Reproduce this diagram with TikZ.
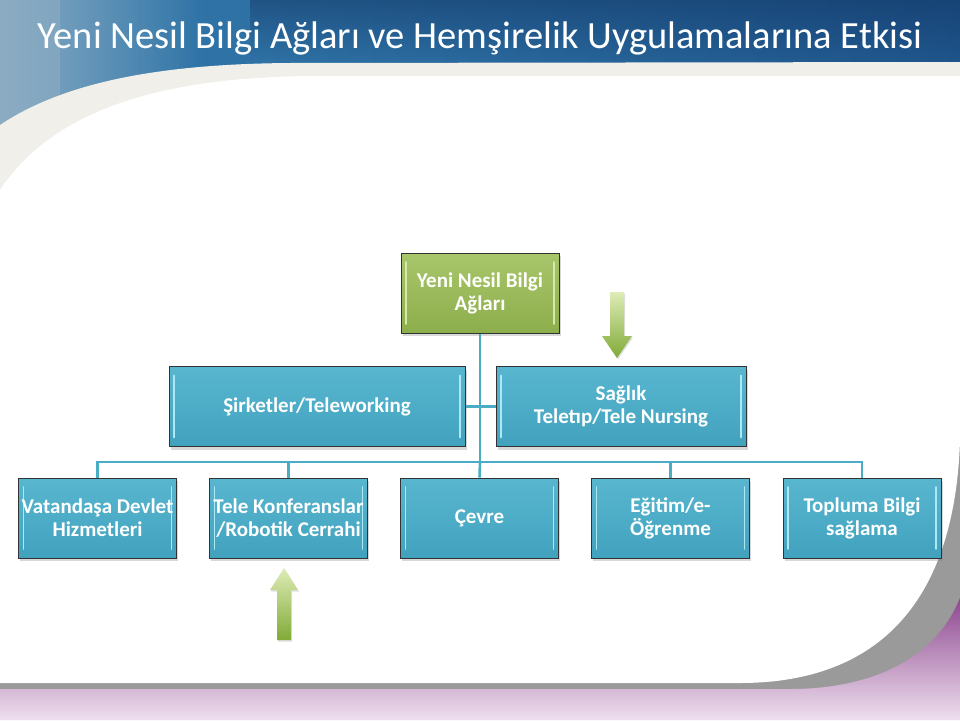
\documentclass[tikz,border=0pt]{standalone}
\usepackage{fontspec}
\setmainfont{Carlito}
\usetikzlibrary{shadows,fadings}
\definecolor{conncol}{RGB}{75,172,198}
\definecolor{bluetop}{RGB}{88,182,207}
\definecolor{bluebot}{RGB}{66,162,190}
\definecolor{greentop}{RGB}{168,198,106}
\definecolor{greenbot}{RGB}{141,174,76}
\definecolor{bevelblue}{RGB}{175,232,245}
\definecolor{bevelgreen}{RGB}{215,232,170}
\definecolor{creamcol}{RGB}{240,239,234}
\definecolor{graycol}{RGB}{154,154,154}
\definecolor{purpledark}{RGB}{142,72,144}
\definecolor{purplelight}{RGB}{238,223,238}
\definecolor{banleft}{RGB}{140,172,195}
\definecolor{banmid}{RGB}{52,124,174}
\definecolor{banright}{RGB}{30,84,138}
\definecolor{bannavy}{RGB}{16,48,95}
\definecolor{arrlight}{RGB}{222,236,182}
\definecolor{arrdark}{RGB}{128,170,55}
\newcommand\boxln[1]{\makebox[140pt]{#1}}
\tikzset{
  bevel/.style={path picture={
    \draw[line width=1.6pt, color=#1, line cap=round]
      ([xshift=5pt,yshift=-9pt]path picture bounding box.north west) --
      ([xshift=5pt,yshift=9pt]path picture bounding box.south west);
    \draw[line width=1.6pt, color=#1, line cap=round]
      ([xshift=-5pt,yshift=-9pt]path picture bounding box.north east) --
      ([xshift=-5pt,yshift=9pt]path picture bounding box.south east);
  }},
  boxbase/.style={draw=black!80, line width=1pt, minimum height=80pt,
    minimum width=158pt, inner sep=2pt, align=center, text=white,
    font=\bfseries\fontsize{21}{23}\selectfont,
    drop shadow={shadow xshift=1.5pt, shadow yshift=-3pt, opacity=0.3}},
  bbox/.style={boxbase, top color=bluetop, bottom color=bluebot, bevel=bevelblue},
  gbox/.style={boxbase, top color=greentop, bottom color=greenbot, bevel=bevelgreen},
  conn/.style={draw=conncol, line width=2.6pt},
  arrowshape/.style={top color=arrlight, bottom color=arrdark,
    drop shadow={shadow xshift=1pt, shadow yshift=-1.5pt, opacity=0.25}}
}
\begin{document}
\begin{tikzpicture}[x=1pt,y=-1pt]
\useasboundingbox (0,0) rectangle (960,720);
% ---------- background ----------
\shade[left color=banmid, right color=banright] (0,0) rectangle (960,200);
\fill[banleft, path fading=east] (0,0) rectangle (200,200);
\fill[banleft, opacity=0.6] (0,0) rectangle (60,200);
\fill[bannavy, opacity=0.45, path fading=south] (250,0) rectangle (960,60);
\fill[creamcol] (0,125) .. controls (60,85) and (150,64) .. (290,63) -- (960,62) -- (960,720) -- (0,720) -- cycle;
\fill[graycol] (0,430) rectangle (960,720);
\shade[top color=purpledark, bottom color=purplelight]
  (0,689) -- (790,689) .. controls (870,689) and (935,660) .. (960,598) -- (960,720) -- (0,720) -- cycle;
\fill[white] (0,190) .. controls (50,115) and (150,76) .. (320,76) -- (960,76) -- (960,440)
  .. controls (955,600) and (880,683) .. (740,683) -- (0,683) -- cycle;
% ---------- title ----------
\node[text=white, font=\fontsize{38.5}{44}\selectfont] (title) at (480,38) {Yeni Nesil Bilgi Ağları ve Hemşirelik Uygulamalarına Etkisi};
% ---------- boxes ----------
\node[gbox] (root) at (480,293) {Yeni Nesil Bilgi\\Ağları};
\node[bbox, minimum width=296pt] (sirket) at (317,406.5) {Şirketler/Teleworking};
\node[bbox, minimum width=250pt] (saglik) at (621,406.5) {Sağlık\\Teletıp/Tele Nursing};
\coordinate (bar) at (480,462);
\node[bbox] (c1) at (97.5,518) {\boxln{Vatandaşa Devlet}\\Hizmetleri};
\node[bbox] (c2) at (288.5,518) {\boxln{Tele Konferanslar}\\\boxln{/Robotik Cerrahi}};
\node[bbox] (c3) at (479.5,518) {Çevre};
\node[bbox] (c4) at (670.5,518) {Eğitim/e-\\Öğrenme};
\node[bbox] (c5) at (862,518) {Topluma Bilgi\\sağlama};
% ---------- connectors ----------
\draw[conn] (root.south) -- (bar);
\draw[conn] (sirket.east) -- (saglik.west);
\draw[conn] (c1.north) |- (bar) -| (c5.north);
\draw[conn] (c2.north) -- (c2.north |- bar);
\draw[conn] (bar) -- (c3.north);
\draw[conn] (c4.north) -- (c4.north |- bar);
% ---------- green arrows ----------
\shade[arrowshape]
  (610,292) -- (624,292) -- (624,336) -- (632,336) -- (617,358) -- (602,336) -- (610,336) -- cycle;
\shade[arrowshape]
  (284,568) -- (298,590) -- (291,590) -- (291,640) -- (277,640) -- (277,590) -- (270,590) -- cycle;
\end{tikzpicture}
\end{document}
